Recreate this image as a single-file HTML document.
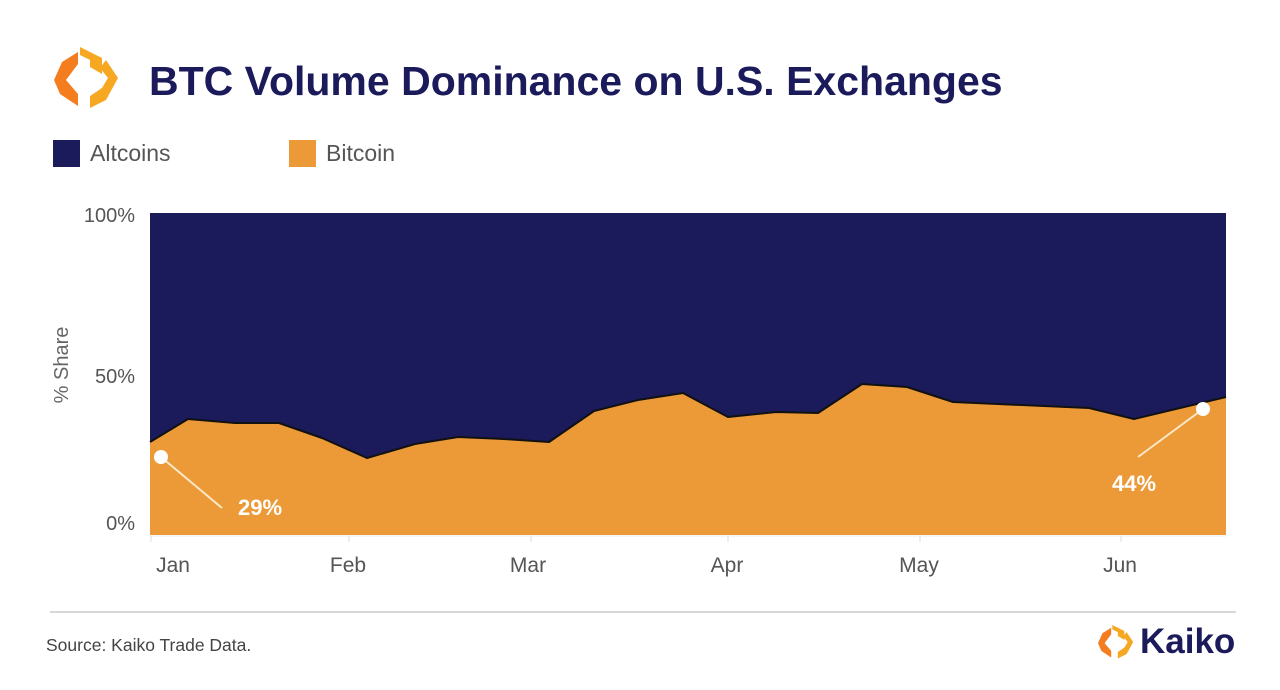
<!DOCTYPE html>
<html><head><style>
body{margin:0;background:#fff;width:1280px;height:690px;overflow:hidden;font-family:"Liberation Sans",sans-serif;position:relative}
.t{position:absolute;white-space:nowrap}
</style></head><body>
<svg width="1280" height="690" style="position:absolute;left:0;top:0">
<g>
<polygon points="80,47 102,58 102,74 90,67 90,60 80,55" fill="#f7a823"/>
<polygon points="106,60 118,78 106,100 90,108 90,96 102,88 108,78 100,68" fill="#f7a823"/>
<polygon points="78,52 78,64 66,80 78,94 78,106 60,94 54,80 62,62" fill="#f47e1f"/>
</g>
<rect x="150" y="213" width="1076" height="322" fill="#1b1a5a"/>
<polygon fill="#ec9a37" points="150,442 188,419 235,423 279,423 322,438 367,458 415,444 458,437 504,439 549,442 594,411 638,400 683,393 728,417 776,412 818,413 862,384 907,387 953,402 1089,408 1134,419 1226,397 1226,535 150,535"/>
<polyline fill="none" stroke="#111" stroke-width="2" stroke-linejoin="round" points="150,442 188,419 235,423 279,423 322,438 367,458 415,444 458,437 504,439 549,442 594,411 638,400 683,393 728,417 776,412 818,413 862,384 907,387 953,402 1089,408 1134,419 1226,397"/>
<line x1="150" y1="536" x2="1226" y2="536" stroke="#eee"/>
<g stroke="#ddd"><line x1="151" y1="536" x2="151" y2="542"/><line x1="349" y1="536" x2="349" y2="542"/><line x1="531" y1="536" x2="531" y2="542"/><line x1="728" y1="536" x2="728" y2="542"/><line x1="920" y1="536" x2="920" y2="542"/><line x1="1121" y1="536" x2="1121" y2="542"/></g>
<line x1="161" y1="457" x2="222" y2="508" stroke="#fbe8c8" stroke-width="2"/>
<circle cx="161" cy="457" r="7" fill="#fff"/>
<line x1="1203" y1="409" x2="1138" y2="457" stroke="#fbe8c8" stroke-width="2"/>
<circle cx="1203" cy="409" r="7" fill="#fff"/>
<text x="238" y="515" font-family="Liberation Sans" font-weight="bold" font-size="22" fill="#fff">29%</text>
<text x="1112" y="491" font-family="Liberation Sans" font-weight="bold" font-size="22" fill="#fff">44%</text>
<g font-family="Liberation Sans" font-size="20" fill="#555" text-anchor="end">
<text x="135" y="222">100%</text><text x="135" y="383">50%</text><text x="135" y="530">0%</text></g>
<text transform="translate(68,365) rotate(-90)" font-family="Liberation Sans" font-size="20" fill="#666" text-anchor="middle">% Share</text>
<g font-family="Liberation Sans" font-size="21" fill="#555" text-anchor="middle">
<text x="173" y="572">Jan</text><text x="348" y="572">Feb</text><text x="528" y="572">Mar</text><text x="727" y="572">Apr</text><text x="919" y="572">May</text><text x="1120" y="572">Jun</text></g>
<line x1="50" y1="612" x2="1236" y2="612" stroke="#ccc" stroke-width="1.5"/>
<rect x="53" y="140" width="27" height="27" fill="#1b1a5a"/>
<rect x="289" y="140" width="27" height="27" fill="#ec9a37"/>
<g transform="translate(1098,625) scale(0.55)">
<polygon points="26,0 48,11 48,27 36,20 36,13 26,8" fill="#f7a823"/>
<polygon points="52,13 64,31 52,53 36,61 36,49 48,41 54,31 46,21" fill="#f7a823"/>
<polygon points="24,5 24,17 12,33 24,47 24,59 6,47 0,33 8,15" fill="#f47e1f"/>
</g>
</svg>
<div class="t" style="left:149px;top:58px;font-size:41px;font-weight:bold;color:#1b1a5a">BTC Volume Dominance on U.S. Exchanges</div>
<div class="t" style="left:90px;top:140px;font-size:23px;color:#555">Altcoins</div>
<div class="t" style="left:326px;top:140px;font-size:23px;color:#555">Bitcoin</div>
<div class="t" style="left:46px;top:635px;font-size:17.5px;color:#444">Source: Kaiko Trade Data.</div>
<div class="t" style="left:1140px;top:622px;font-size:35px;font-weight:bold;color:#1b1a5a">Kaiko</div>
</body></html>
